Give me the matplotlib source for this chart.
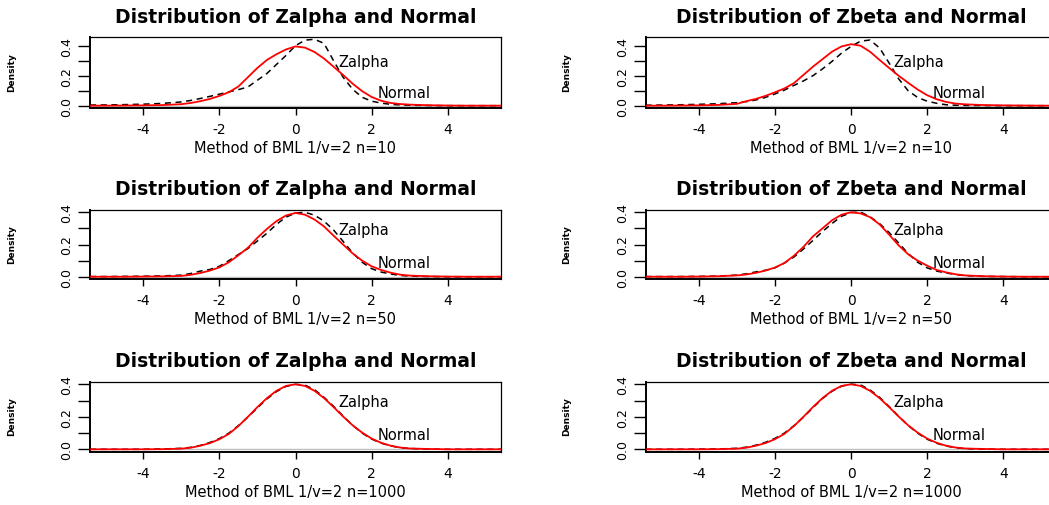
import matplotlib
matplotlib.use('Agg')
from matplotlib import pyplot as plt

plt.rcParams['font.family'] = ['DejaVu Sans']
plt.rcParams['axes.unicode_minus'] = False

# density grid shared by all curves
xg = [-5.4, -5, -4.5, -4, -3.5, -3, -2.75, -2.5, -2.25, -2, -1.75, -1.5, -1.25, -1,
      -0.75, -0.5, -0.25, 0, 0.25, 0.5, 0.75, 1, 1.25, 1.5, 1.75, 2, 2.25, 2.5,
      2.75, 3, 3.5, 4, 4.5, 5, 5.4]

# n=10
zalpha_10 = [0.004, 0.005, 0.007, 0.010, 0.015, 0.025, 0.035, 0.048, 0.062, 0.077,
             0.092, 0.107, 0.125, 0.170, 0.215, 0.275, 0.335, 0.400, 0.437, 0.443,
             0.415, 0.300, 0.190, 0.110, 0.056, 0.030, 0.017, 0.009, 0.005, 0.003,
             0.001, 0, 0, 0, 0]
norm_a10 = [0, 0, 0.001, 0.002, 0.004, 0.010, 0.018, 0.030, 0.045, 0.065, 0.090,
            0.128, 0.190, 0.252, 0.305, 0.343, 0.375, 0.395, 0.387, 0.358, 0.314,
            0.260, 0.205, 0.147, 0.097, 0.058, 0.033, 0.018, 0.011, 0.007, 0.003,
            0.001, 0, 0, 0]
zbeta_10 = [0.003, 0.004, 0.006, 0.009, 0.013, 0.020, 0.027, 0.038, 0.055, 0.078,
            0.104, 0.135, 0.165, 0.200, 0.245, 0.295, 0.350, 0.395, 0.430, 0.438,
            0.385, 0.285, 0.180, 0.100, 0.055, 0.030, 0.016, 0.006, 0.003, 0.002,
            0.001, 0, 0, 0, 0]
norm_b10 = [0, 0, 0.001, 0.002, 0.005, 0.012, 0.030, 0.045, 0.065, 0.089, 0.115,
            0.150, 0.205, 0.260, 0.310, 0.360, 0.395, 0.410, 0.400, 0.360, 0.305,
            0.252, 0.200, 0.153, 0.108, 0.070, 0.043, 0.025, 0.014, 0.009, 0.004,
            0.002, 0.001, 0, 0]

# n=50
zalpha_50 = [0.001, 0.001, 0.002, 0.003, 0.005, 0.010, 0.020, 0.035, 0.045, 0.065,
             0.100, 0.138, 0.175, 0.222, 0.270, 0.325, 0.370, 0.395, 0.400, 0.382,
             0.345, 0.290, 0.220, 0.148, 0.090, 0.050, 0.029, 0.017, 0.008, 0.004,
             0.001, 0, 0, 0, 0]
norm_a50 = [0, 0, 0, 0.001, 0.002, 0.005, 0.012, 0.023, 0.038, 0.058, 0.090, 0.133,
            0.180, 0.242, 0.297, 0.345, 0.380, 0.396, 0.385, 0.355, 0.312, 0.255,
            0.200, 0.145, 0.100, 0.065, 0.042, 0.025, 0.013, 0.007, 0.003, 0.001,
            0, 0, 0]
zbeta_50 = [0.001, 0.001, 0.001, 0.002, 0.004, 0.010, 0.018, 0.030, 0.040, 0.055,
            0.085, 0.122, 0.172, 0.225, 0.280, 0.330, 0.375, 0.398, 0.402, 0.372,
            0.330, 0.275, 0.210, 0.145, 0.090, 0.055, 0.035, 0.023, 0.014, 0.007,
            0.002, 0.001, 0, 0, 0]
norm_b50 = [0, 0, 0, 0.001, 0.003, 0.008, 0.014, 0.024, 0.038, 0.057, 0.085, 0.130,
            0.185, 0.250, 0.300, 0.350, 0.385, 0.400, 0.393, 0.370, 0.325, 0.262,
            0.195, 0.140, 0.100, 0.069, 0.042, 0.027, 0.015, 0.008, 0.003, 0.001,
            0, 0, 0]

# n=1000
zalpha_1000 = [0, 0, 0, 0, 0.002, 0.006, 0.012, 0.024, 0.042, 0.066, 0.100, 0.146,
               0.198, 0.255, 0.310, 0.355, 0.387, 0.400, 0.395, 0.367, 0.320, 0.265,
               0.205, 0.148, 0.100, 0.063, 0.038, 0.021, 0.010, 0.005, 0.001, 0, 0,
               0, 0]
norm_a1000 = [0, 0, 0, 0, 0.001, 0.004, 0.010, 0.022, 0.038, 0.062, 0.095, 0.143,
              0.200, 0.260, 0.315, 0.360, 0.390, 0.400, 0.390, 0.360, 0.315, 0.260,
              0.202, 0.148, 0.103, 0.066, 0.040, 0.022, 0.011, 0.005, 0.002, 0, 0,
              0, 0]
zbeta_1000 = [0, 0, 0, 0.001, 0.002, 0.006, 0.013, 0.025, 0.043, 0.067, 0.100, 0.145,
              0.197, 0.256, 0.312, 0.357, 0.388, 0.401, 0.396, 0.366, 0.320, 0.264,
              0.204, 0.147, 0.099, 0.062, 0.037, 0.020, 0.010, 0.004, 0.001, 0, 0,
              0, 0]
norm_b1000 = [0, 0, 0, 0, 0.001, 0.004, 0.010, 0.022, 0.038, 0.062, 0.095, 0.143,
              0.200, 0.260, 0.315, 0.360, 0.390, 0.400, 0.390, 0.360, 0.315, 0.260,
              0.202, 0.148, 0.103, 0.066, 0.040, 0.022, 0.011, 0.005, 0.002, 0, 0,
              0, 0]

sizes = ['10', '50', '1000']
zalpha = [zalpha_10, zalpha_50, zalpha_1000]
zbeta = [zbeta_10, zbeta_50, zbeta_1000]
norm_a = [norm_a10, norm_a50, norm_a1000]
norm_b = [norm_b10, norm_b50, norm_b1000]

W, H = 1049, 506
top_px = [38.3, 210.7, 382.7]
bot_px = [109.3, 280.3, 452.9]
ylims = [(-0.0175, 0.456), (-0.016, 0.416), (-0.016, 0.416)]
left_px = [90, 645.5]
width_px = 411


def panel(ax, z, nrm, title, n, ylim):
    ax.axhline(0, color='#bebebe', lw=1, zorder=1)
    ax.plot(xg, z, color='black', lw=1.1, ls=(0, (4, 3)), zorder=2)
    ax.plot(xg, nrm, color='red', lw=1.3, zorder=3)
    ax.set_xlim(-5.4, 5.4)
    ax.set_ylim(*ylim)
    ax.set_xticks([-4, -2, 0, 2, 4])
    ax.set_xticklabels(['-4', '-2', '0', '2', '4'])
    ax.set_yticks([0, 0.1, 0.2, 0.3, 0.4])
    ax.set_yticklabels(['0.0', '', '0.2', '', '0.4'], rotation=90, va='center')
    ax.tick_params(axis='x', length=5, width=1, pad=5, labelsize=10)
    ax.tick_params(axis='y', length=9, width=1, pad=3, labelsize=9)
    for s in ax.spines.values():
        s.set_linewidth(0.9)
    ax.spines['left'].set_linewidth(1.4)
    ax.spines['bottom'].set_linewidth(1.4)
    ax.set_title(title, fontsize=13.5, fontweight='bold', pad=11)
    ax.set_xlabel('Method of BML 1/v=2 n=' + n, fontsize=10.5, labelpad=3)
    ax.set_ylabel('Density', fontsize=6.5, fontweight='bold')
    ax.yaxis.set_label_coords(-0.18, 0.52)
    ax.text(1.12, 0.295, 'Zalpha', fontsize=10.5, va='center', ha='left')
    ax.text(2.15, 0.09, 'Normal', fontsize=10.5, va='center', ha='left')


fig = plt.figure(figsize=(W / 100, H / 100), dpi=100)
for r in range(3):
    for c in range(2):
        pos = [left_px[c] / W, 1 - bot_px[r] / H, width_px / W,
               (bot_px[r] - top_px[r]) / H]
        ax = fig.add_axes(pos)
        if c == 0:
            panel(ax, zalpha[r], norm_a[r], 'Distribution of Zalpha and Normal',
                  sizes[r], ylims[r])
        else:
            panel(ax, zbeta[r], norm_b[r], 'Distribution of Zbeta and Normal',
                  sizes[r], ylims[r])

fig.savefig('out.png', dpi=100)
